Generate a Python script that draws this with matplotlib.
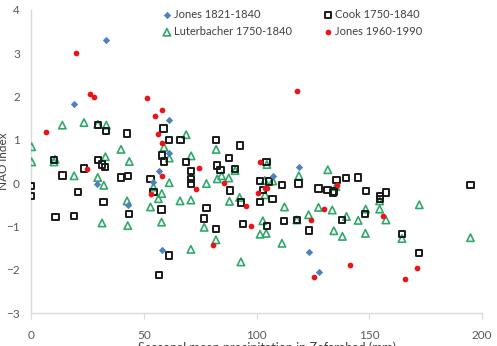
import matplotlib
matplotlib.use("Agg")
import matplotlib.pyplot as plt

plt.rcParams['font.family'] = ['Lato', 'DejaVu Sans']

# Jones 1821-1840 (blue diamonds)
jones1821_x = [33.4, 19.1, 61.3, 61.3, 56.8, 29.4, 42.9, 54.2, 58.0, 118.8, 107.2, 123.3, 127.7]
jones1821_y = [3.30, 1.82, 1.45, 0.70, 0.29, -0.01, -0.51, 0.02, -1.55, 0.38, 0.17, -1.58, -2.06]

# Cook 1750-1840 (open black squares)
cook_x = [0.1, 0.1, 10.8, 19.1, 20.9, 10.2, 13.9, 23.4, 29.6, 33.4, 42.6, 29.6, 31.5, 32.8,
          32.1, 39.9, 42.9, 43.5, 53.0, 54.3, 57.9, 56.7, 61.3, 58.7, 61.1, 66.3, 58.0, 59.0,
          68.8, 71.0, 70.9, 70.9, 77.8, 76.8, 82.0, 82.1, 82.4, 84.0, 87.7, 90.6, 88.2, 93.1,
          94.1, 92.6, 104.4, 101.6, 105.5, 102.8, 101.6, 107.1, 111.3, 118.6, 127.5, 131.5,
          134.0, 134.4, 135.4, 139.7, 145.1, 148.5, 154.9, 154.9, 157.4, 194.9, 104.6, 112.3,
          117.9, 123.3, 137.9, 148.2, 164.5, 172.2]
cook_y = [-0.07, -0.30, -0.78, -0.76, -0.21, 0.53, 0.18, 0.34, 1.34, 1.20, 1.15, 0.53, 0.43, 0.38,
          -0.43, 0.13, 0.16, -0.72, 0.10, -0.20, -0.61, -2.12, -1.67, 1.26, 1.00, 0.99, 0.64, 0.50,
          0.49, 0.28, 0.10, -0.01, -0.58, -0.82, -1.06, 1.00, 0.41, 0.30, 0.58, 0.33, -0.17, -0.45,
          -0.95, 0.87, 0.49, 0.05, 0.04, -0.16, -0.43, -0.37, -0.05, -0.01, -0.12, -0.16,
          -0.22, -0.19, 0.07, 0.12, 0.13, -0.18, -0.30, -0.37, -0.22, -0.04, -0.99, -0.88,
          -0.85, -1.09, -0.85, -0.72, -1.18, -1.62]

# Luterbacher 1750-1840 (open green triangles)
luter_x = [0.3, 0.3, 13.9, 23.5, 29.6, 33.4, 10.7, 10.2, 19.1, 29.6, 33.0, 39.9, 43.6, 59.0,
           61.3, 68.8, 71.0, 82.1, 82.6, 84.5, 87.7, 90.5, 32.3, 31.5, 42.6, 42.9, 53.0, 54.3,
           56.5, 58.0, 57.9, 61.3, 66.1, 70.9, 70.9, 77.8, 76.8, 82.0, 88.0, 92.5, 93.1, 104.6,
           118.8, 131.6, 103.7, 107.2, 103.8, 135.2, 112.4, 117.9, 123.1, 127.5, 133.6, 139.9,
           145.1, 148.4, 154.6, 157.4, 154.6, 172.2, 102.8, 101.6, 104.3, 111.3, 134.3, 138.1,
           148.3, 164.5, 194.9]
luter_y = [0.84, 0.49, 1.34, 1.40, 1.36, 1.34, 0.55, 0.49, 0.17, 0.13, 0.61, 0.78, 0.50, 0.83,
           0.58, 1.12, 0.63, 0.78, 0.10, 0.17, 0.12, 0.29, -0.05, -0.92, -0.41, -0.98, -0.55, -0.09,
           -0.36, -0.24, -0.90, 0.01, -0.41, -0.39, -1.53, -0.01, -1.02, -1.31, -0.42, -0.33, -1.82, 0.43,
           0.17, 0.31, 0.06, 0.05, -0.27, -0.08, -0.55, -0.85, -0.73, -0.56, -0.62, -0.77,
           -0.86, -0.60, -0.60, -0.85, -0.41, -0.50, -0.87, -1.18, -1.16, -1.39, -1.10, -1.23,
           -1.16, -1.28, -1.26]

# Jones 1960-1990 (red dots)
jones1960_x = [6.5, 20.1, 26.3, 28.1, 24.7, 51.6, 55.0, 58.1, 56.5, 58.3, 58.1, 74.3, 117.8,
               101.6, 53.3, 73.2, 85.8, 80.9, 95.4, 97.5, 100.5, 103.6, 104.5, 135.8, 129.9,
               124.3, 141.3, 125.7, 155.9, 165.9, 171.3]
jones1960_y = [1.19, 3.00, 2.07, 1.99, 0.32, 1.96, 1.56, 1.70, 1.14, 0.93, 0.16, 0.35, 2.13,
               0.49, -0.26, -0.13, 0.01, -1.42, -0.52, -0.99, -0.22, -0.12, -0.12, -0.04, -0.59,
               -0.85, -1.90, -2.17, -0.76, -2.21, -1.97]

fig = plt.figure(figsize=(4.97, 3.46), dpi=100)
ax = fig.add_axes([31/497, 33/346, (482-31)/497, (313-10)/346])

ax.scatter(luter_x, luter_y, marker='^', s=28, facecolors='none', edgecolors='#2fa86a',
           linewidths=1.2, label='Luterbacher 1750-1840', zorder=3)
ax.scatter(cook_x, cook_y, marker='s', s=21, facecolors='none', edgecolors='#1a1a1a',
           linewidths=1.4, label='Cook 1750-1840', zorder=3)
ax.scatter(jones1960_x, jones1960_y, marker='o', s=17, color='#e8161b', linewidths=0,
           label='Jones 1960-1990', zorder=4)
ax.scatter(jones1821_x, jones1821_y, marker='D', s=14, color='#4f81bd', linewidths=0,
           label='Jones 1821-1840', zorder=5)

ax.set_xlim(0, 200)
ax.set_ylim(-3, 4)
ax.set_xticks([0, 50, 100, 150, 200])
ax.set_yticks([-3, -2, -1, 0, 1, 2, 3, 4])
for s in ['top', 'right']:
    ax.spines[s].set_visible(False)
for s in ['left', 'bottom']:
    ax.spines[s].set_color('#d9d9d9')
    ax.spines[s].set_linewidth(1.0)
ax.tick_params(axis='x', colors='#d9d9d9', length=4, labelcolor='#595959', labelsize=8.5, pad=8)
ax.tick_params(axis='y', length=0, labelcolor='#595959', labelsize=8.5, pad=8)
ax.set_ylabel('NAO index', fontsize=8.5, color='#404040', va='center')
ax.yaxis.set_label_coords(-0.062, 0.5)

h, l = ax.get_legend_handles_labels()
order = [3, 0, 1, 2]
ax.legend([h[i] for i in order], [l[i] for i in order], ncol=2, frameon=False,
          loc='upper left', bbox_to_anchor=(163/497, 1 - 9/346), bbox_transform=fig.transFigure,
          fontsize=8, handlelength=0.7, handletextpad=0.3, columnspacing=2.9,
          labelspacing=0.55, borderaxespad=0, borderpad=0, labelcolor='#404040')

fig.text(267/497, 1 - 341/346, 'Seasonal mean precipitation in Zefarabad (mm)', ha='center', va='top',
         fontsize=9, color='#404040')

fig.savefig('out.png', dpi=100)
